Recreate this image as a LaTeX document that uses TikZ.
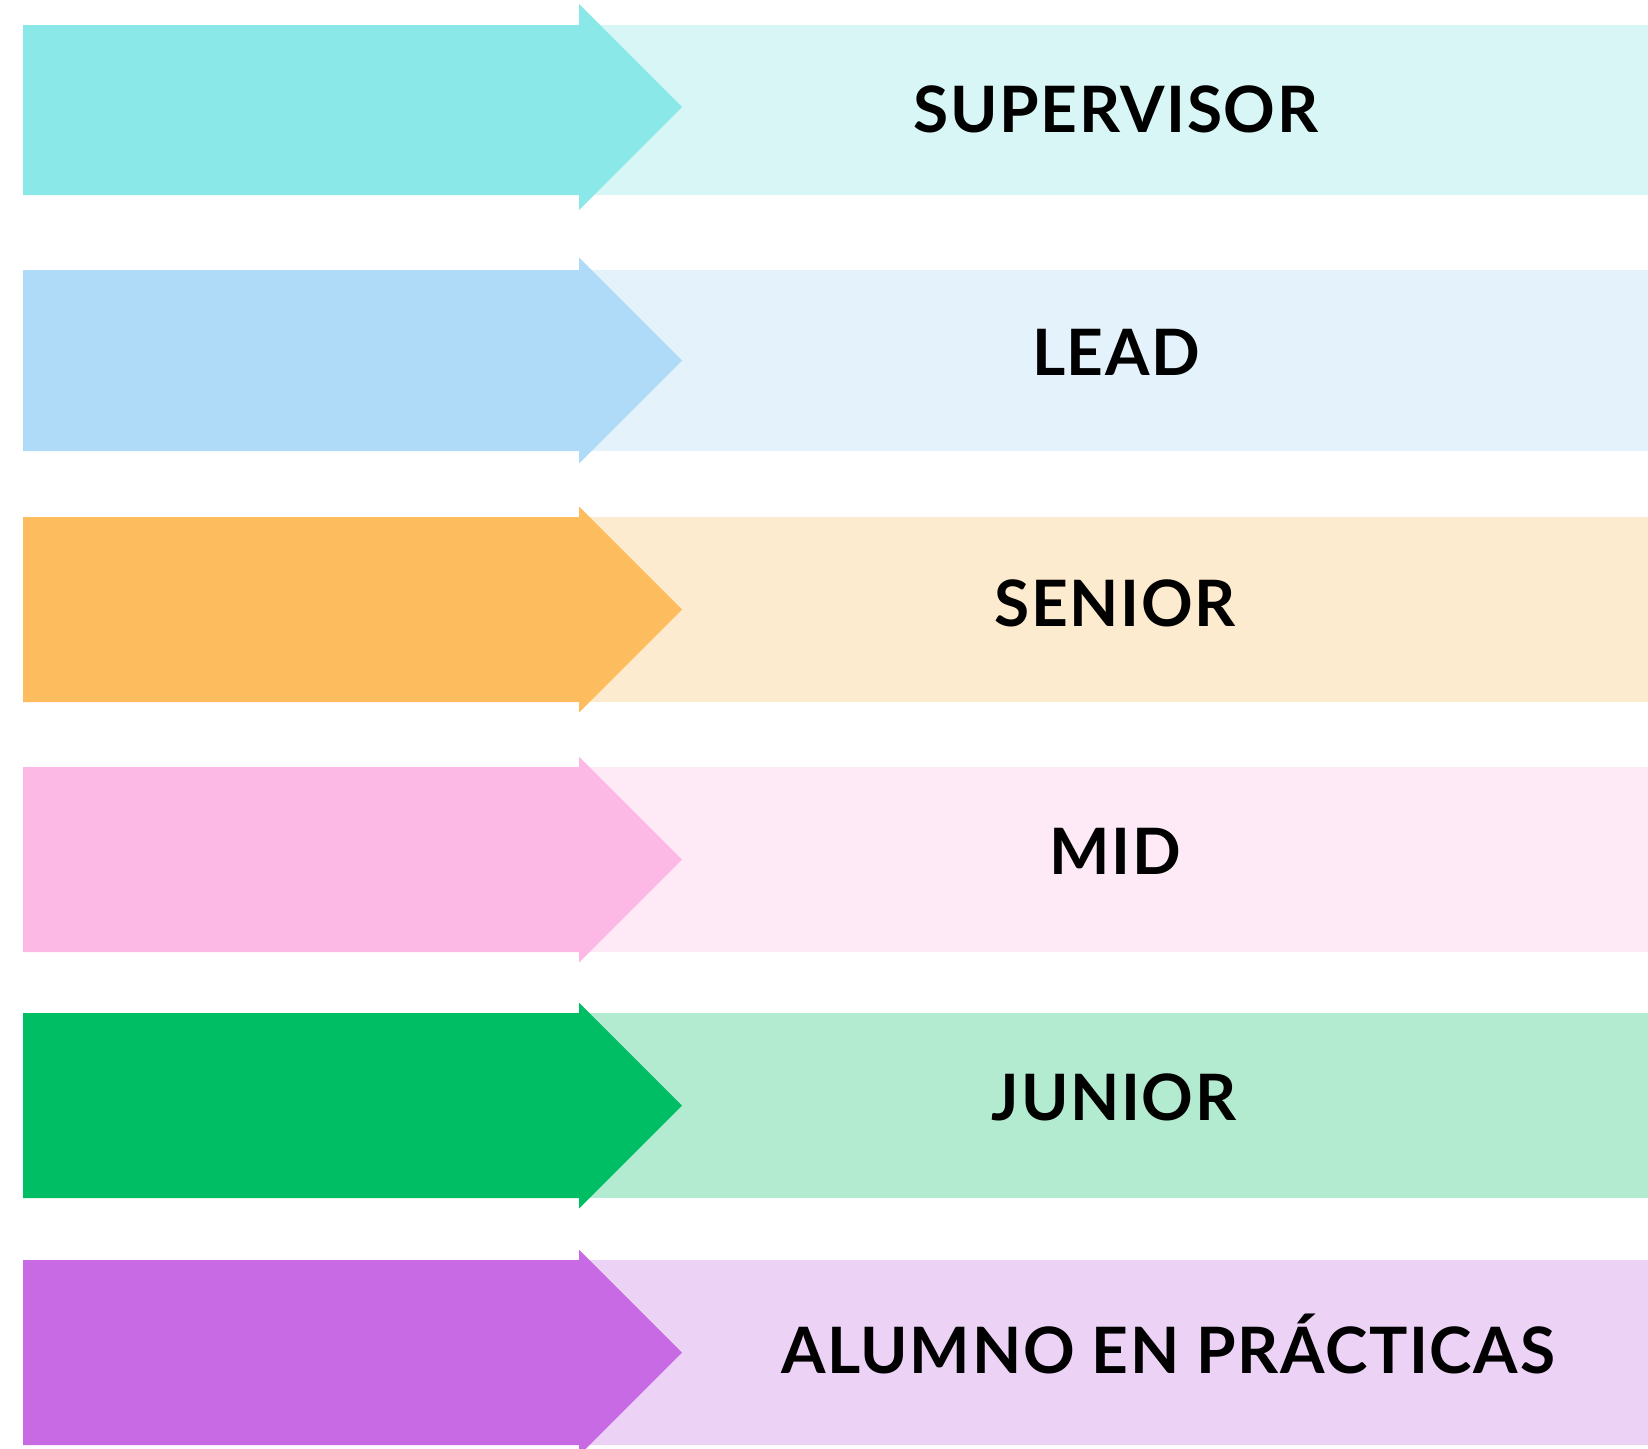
\documentclass[tikz,border=0pt]{standalone}
\usepackage{fontspec}
\setmainfont{Lato}[LetterSpace=2.5]
\definecolor{d1}{HTML}{8AE9E8}\definecolor{l1}{HTML}{D8F6F6}
\definecolor{d2}{HTML}{AFDBF8}\definecolor{l2}{HTML}{E4F3FB}
\definecolor{d3}{HTML}{FDBD5E}\definecolor{l3}{HTML}{FDEBCF}
\definecolor{d4}{HTML}{FDB9E5}\definecolor{l4}{HTML}{FDEAF6}
\definecolor{d5}{HTML}{00BE64}\definecolor{l5}{HTML}{B3EBD1}
\definecolor{d6}{HTML}{C86AE4}\definecolor{l6}{HTML}{ECD3F6}
\tikzset{
  label/.style={anchor=base, inner sep=0pt, font=\fontsize{64}{70}\selectfont\bfseries, text=black},
}
\newcommand{\rowarrow}[5]{% top, bottom, head centre, dark, light
  \fill[#5] (579,#1) rectangle (1648,#2);
  \fill[#4] (23,#1) -- (579,#1) -- (579,#3-103) -- (682,#3) -- (579,#3+103) -- (579,#2) -- (23,#2) -- cycle;
}
\begin{document}
\begin{tikzpicture}[x=1pt,y=-1pt]
\useasboundingbox (0,0) rectangle (1648,1448);
\fill[white] (0,0) rectangle (1648,1448);
\rowarrow{25}{195}{107}{d1}{l1}
\rowarrow{270}{451}{360.5}{d2}{l2}
\rowarrow{517}{702}{609.5}{d3}{l3}
\rowarrow{767}{952}{859.5}{d4}{l4}
\rowarrow{1013}{1198}{1105.5}{d5}{l5}
\rowarrow{1260}{1445}{1352.5}{d6}{l6}
\node[label] (t1) at (1116,132) {SUPERVISOR};
\node[label] (t2) at (1116,375) {LEAD};
\node[label] (t3) at (1115,626) {SENIOR};
\node[label] (t4) at (1115,874) {MID};
\node[label] (t5) at (1114,1120) {JUNIOR};
\node[label] (t6) at (1168,1373) {ALUMNO EN PRÁCTICAS};
\end{tikzpicture}
\end{document}
